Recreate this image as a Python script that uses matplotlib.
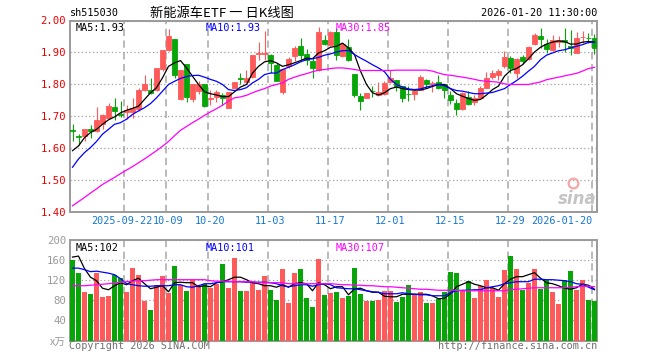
import numpy as np
import matplotlib
matplotlib.use('Agg')
import matplotlib.pyplot as plt
from matplotlib.transforms import ScaledTranslation

# --- data (sh515030, 2025-09-09 .. 2026-01-20) ---
opens = [1.655, 1.637, 1.636, 1.660, 1.652, 1.676, 1.695, 1.729, 1.705, 1.712,
         1.713, 1.721, 1.782, 1.782, 1.783, 1.849, 1.908, 1.942, 1.752, 1.864,
         1.752, 1.778, 1.801, 1.754, 1.760, 1.767, 1.726, 1.787, 1.818, 1.807,
         1.822, 1.894, 1.894, 1.892, 1.861, 1.776, 1.856, 1.888, 1.920, 1.895,
         1.872, 1.846, 1.939, 1.924, 1.964, 1.888, 1.916, 1.832, 1.764, 1.758,
         1.779, 1.765, 1.768, 1.808, 1.814, 1.794, 1.770, 1.768, 1.783, 1.814,
         1.801, 1.807, 1.799, 1.765, 1.742, 1.721, 1.760, 1.745, 1.757, 1.789,
         1.823, 1.830, 1.856, 1.882, 1.835, 1.884, 1.878, 1.926, 1.951, 1.926,
         1.908, 1.933, 1.939, 1.920, 1.898, 1.947, 1.946, 1.944]
highs = [1.674, 1.643, 1.660, 1.672, 1.729, 1.705, 1.742, 1.757, 1.748, 1.736,
         1.757, 1.788, 1.830, 1.818, 1.851, 1.906, 1.973, 1.942, 1.846, 1.864,
         1.801, 1.811, 1.801, 1.783, 1.783, 1.773, 1.776, 1.807, 1.834, 1.843,
         1.893, 1.931, 1.966, 1.895, 1.867, 1.849, 1.884, 1.920, 1.945, 1.911,
         1.882, 1.979, 1.953, 1.966, 1.976, 1.929, 1.943, 1.832, 1.773, 1.773,
         1.794, 1.807, 1.811, 1.843, 1.814, 1.794, 1.794, 1.778, 1.829, 1.816,
         1.810, 1.830, 1.799, 1.779, 1.752, 1.776, 1.779, 1.765, 1.794, 1.839,
         1.843, 1.848, 1.903, 1.890, 1.882, 1.891, 1.919, 1.960, 1.976, 1.943,
         1.953, 1.950, 1.976, 1.971, 1.964, 1.966, 1.961, 1.958]
lows = [1.622, 1.609, 1.620, 1.632, 1.651, 1.658, 1.690, 1.686, 1.697, 1.692,
        1.693, 1.715, 1.780, 1.770, 1.780, 1.841, 1.905, 1.818, 1.750, 1.745,
        1.745, 1.768, 1.728, 1.736, 1.745, 1.734, 1.724, 1.787, 1.801, 1.807,
        1.820, 1.877, 1.877, 1.835, 1.809, 1.768, 1.851, 1.872, 1.877, 1.861,
        1.820, 1.841, 1.924, 1.919, 1.877, 1.885, 1.874, 1.760, 1.720, 1.758,
        1.760, 1.763, 1.766, 1.804, 1.778, 1.745, 1.747, 1.749, 1.781, 1.787,
        1.775, 1.786, 1.757, 1.739, 1.702, 1.719, 1.736, 1.736, 1.755, 1.787,
        1.816, 1.813, 1.851, 1.835, 1.818, 1.864, 1.877, 1.924, 1.914, 1.898,
        1.905, 1.918, 1.901, 1.891, 1.898, 1.930, 1.930, 1.895]
closes = [1.652, 1.635, 1.660, 1.653, 1.689, 1.702, 1.732, 1.715, 1.703, 1.720,
          1.725, 1.781, 1.801, 1.771, 1.851, 1.906, 1.950, 1.830, 1.844, 1.760,
          1.801, 1.801, 1.731, 1.756, 1.775, 1.757, 1.776, 1.807, 1.816, 1.820,
          1.893, 1.898, 1.898, 1.868, 1.811, 1.849, 1.879, 1.914, 1.893, 1.877,
          1.851, 1.964, 1.926, 1.964, 1.893, 1.926, 1.877, 1.766, 1.747, 1.773,
          1.777, 1.775, 1.803, 1.820, 1.791, 1.755, 1.768, 1.778, 1.822, 1.799,
          1.803, 1.788, 1.783, 1.750, 1.721, 1.773, 1.738, 1.757, 1.789, 1.820,
          1.836, 1.841, 1.884, 1.851, 1.880, 1.874, 1.917, 1.953, 1.943, 1.911,
          1.939, 1.939, 1.933, 1.914, 1.945, 1.949, 1.944, 1.913]

ma5 = [1.591, 1.606, 1.632, 1.648, 1.658, 1.674, 1.688, 1.697, 1.710, 1.718,
       1.724, 1.731, 1.752, 1.773, 1.789, 1.820, 1.856, 1.867, 1.874, 1.851,
       1.825, 1.799, 1.776, 1.770, 1.766, 1.761, 1.761, 1.776, 1.791, 1.799,
       1.835, 1.856, 1.870, 1.874, 1.867, 1.856, 1.861, 1.867, 1.874, 1.882,
       1.880, 1.898, 1.905, 1.916, 1.919, 1.929, 1.914, 1.893, 1.841, 1.799,
       1.773, 1.766, 1.773, 1.786, 1.791, 1.786, 1.783, 1.781, 1.782, 1.786,
       1.793, 1.799, 1.799, 1.786, 1.770, 1.762, 1.755, 1.749, 1.752, 1.766,
       1.783, 1.794, 1.825, 1.843, 1.849, 1.861, 1.880, 1.901, 1.916, 1.926,
       1.932, 1.936, 1.934, 1.926, 1.926, 1.932, 1.934, 1.932]
ma10 = [1.539, 1.565, 1.585, 1.601, 1.620, 1.643, 1.658, 1.674, 1.679, 1.690,
        1.705, 1.716, 1.726, 1.739, 1.757, 1.778, 1.799, 1.809, 1.818, 1.824,
        1.827, 1.828, 1.822, 1.815, 1.809, 1.799, 1.783, 1.780, 1.783, 1.789,
        1.804, 1.815, 1.830, 1.835, 1.835, 1.846, 1.853, 1.861, 1.870, 1.877,
        1.880, 1.884, 1.891, 1.895, 1.901, 1.905, 1.906, 1.893, 1.882, 1.872,
        1.861, 1.851, 1.839, 1.815, 1.799, 1.791, 1.785, 1.783, 1.785, 1.791,
        1.795, 1.799, 1.795, 1.786, 1.780, 1.778, 1.774, 1.770, 1.770, 1.772,
        1.774, 1.780, 1.786, 1.799, 1.811, 1.825, 1.841, 1.856, 1.877, 1.891,
        1.898, 1.905, 1.908, 1.914, 1.919, 1.924, 1.931, 1.932]
ma30 = [1.418, 1.431, 1.444, 1.458, 1.471, 1.485, 1.496, 1.507, 1.519, 1.530,
        1.541, 1.553, 1.565, 1.578, 1.591, 1.605, 1.620, 1.638, 1.655, 1.667,
        1.679, 1.690, 1.702, 1.713, 1.723, 1.734, 1.747, 1.757, 1.760, 1.765,
        1.773, 1.780, 1.786, 1.794, 1.799, 1.804, 1.815, 1.822, 1.828, 1.833,
        1.839, 1.844, 1.846, 1.849, 1.851, 1.851, 1.849, 1.846, 1.843, 1.843,
        1.843, 1.843, 1.843, 1.843, 1.844, 1.844, 1.844, 1.844, 1.844, 1.844,
        1.841, 1.835, 1.830, 1.828, 1.825, 1.822, 1.819, 1.815, 1.811, 1.809,
        1.808, 1.806, 1.801, 1.799, 1.799, 1.799, 1.799, 1.803, 1.807, 1.814,
        1.818, 1.822, 1.826, 1.830, 1.834, 1.841, 1.849, 1.853]

# volume in 万
volume = [160, 134, 97, 93, 134, 86, 89, 131, 124, 96,
          144, 130, 79, 61, 111, 128, 94, 148, 111, 99,
          121, 109, 113, 104, 112, 153, 104, 165, 99, 99,
          116, 101, 129, 101, 81, 143, 74, 135, 143, 84,
          66, 163, 91, 95, 97, 84, 89, 145, 93, 79,
          79, 81, 99, 99, 77, 87, 111, 93, 97, 75,
          75, 82, 97, 136, 134, 99, 118, 85, 109, 121,
          105, 87, 141, 169, 143, 100, 115, 143, 102, 121,
          97, 73, 121, 139, 101, 120, 80, 78]
vma5 = [166, 168, 143, 126, 119, 104, 101, 109, 115, 111,
        119, 124, 113, 103, 106, 109, 97, 115, 116, 115,
        115, 107, 109, 107, 115, 117, 121, 126, 126, 121,
        115, 113, 109, 109, 106, 111, 106, 113, 115, 113,
        99, 115, 111, 103, 107, 107, 91, 103, 104, 99,
        96, 96, 88, 87, 87, 92, 92, 92, 92, 92,
        89, 83, 84, 93, 107, 112, 117, 112, 109, 105,
        105, 100, 113, 122, 127, 127, 131, 135, 124, 115,
        113, 109, 104, 102, 105, 112, 110, 102]
vma10 = [144, 144, 141, 137, 138, 136, 134, 131, 123, 113,
         111, 109, 108, 108, 109, 109, 109, 111, 111, 107,
         106, 109, 113, 113, 115, 117, 117, 117, 117, 116,
         116, 116, 116, 115, 113, 109, 107, 109, 111, 111,
         108, 111, 113, 111, 105, 104, 103, 103, 101, 99,
         97, 96, 93, 93, 93, 95, 93, 92, 91, 91,
         89, 89, 89, 95, 99, 100, 100, 101, 101, 105,
         107, 109, 113, 115, 117, 117, 117, 122, 122, 121,
         121, 120, 119, 117, 113, 112, 106, 101]
vma30 = [109, 109, 109, 110, 111, 112, 113, 115, 116, 117,
         118, 119, 119, 120, 121, 121, 121, 121, 121, 121,
         121, 121, 121, 119, 118, 118, 118, 117, 117, 117,
         117, 115, 115, 115, 115, 115, 113, 113, 113, 113,
         113, 113, 113, 113, 112, 111, 111, 110, 110, 109,
         109, 108, 107, 107, 106, 105, 104, 103, 102, 102,
         101, 100, 100, 100, 100, 99, 99, 99, 99, 99,
         99, 99, 99, 101, 102, 103, 104, 105, 105, 105,
         105, 105, 105, 106, 107, 108, 108, 107]

date_idx = [9, 16, 23, 33, 43, 53, 63, 73, 87]
date_labels = ['2025-09-22', '10-09', '10-20', '11-03', '11-17',
               '12-01', '12-15', '12-29', '2026-01-20']
price_ticks = [1.40, 1.50, 1.60, 1.70, 1.80, 1.90, 2.00]
vol_ticks = [0, 40, 80, 120, 160, 200]

# --- styling ---
RED = '#ff5a5a'
GREEN = '#07a507'
FRAME = '#9a9a9a'
MONO = 'DejaVu Sans Mono'
CJK = ['Noto Sans CJK SC', 'DejaVu Sans']
FS = 7.3

x = np.arange(len(closes))
o = np.array(opens)
c = np.array(closes)
up = c >= o
colors = np.where(up, RED, GREEN)
W = 5 / 6
half = 2.5 / 6
xlim = (-half, len(closes) - 1 + half)

fig = plt.figure(figsize=(6.6, 3.6), dpi=100)
ax = fig.add_axes([70 / 660, 1 - 211.5 / 360, 527 / 660, 191 / 360])
axv = fig.add_axes([70 / 660, 1 - 340.5 / 360, 527 / 660, 100.5 / 360])

for a in (ax, axv):
    a.set_xlim(*xlim)
    for s in a.spines.values():
        s.set_color(FRAME)
        s.set_linewidth(1.4)
    a.yaxis.grid(True, linestyle=(0, (1, 2)), color='#a0a0a0', linewidth=0.9)
    a.set_axisbelow(True)
    for i in date_idx:
        a.axvline(i - half, color='#b4b4b4', linewidth=1.3,
                  linestyle=(0, (4, 2.5)), zorder=0.5)
    a.tick_params(length=0)

# --- candles ---
ax.vlines(x, lows, highs, colors=colors, linewidth=0.8, zorder=2)
ax.bar(x, c - o, bottom=o, width=W, color=colors, edgecolor=colors,
       linewidth=0.6, zorder=3)
ax.plot(x, ma5, color='black', linewidth=0.9, zorder=4)
ax.plot(x, ma10, color='#0000ff', linewidth=0.9, zorder=4)
ax.plot(x, ma30, color='#ff00ff', linewidth=0.9, zorder=4)
ax.set_ylim(1.40, 2.00)
ax.set_yticks(price_ticks)
ax.set_yticklabels(['%.2f' % v for v in price_ticks], color='#ee0000',
                   fontsize=FS + 0.4, family=MONO)
ax.tick_params(axis='y', pad=3)
ax.set_xticks([])

# date labels under the price panel (first one nudged left, last right-aligned)
for k, (i, lab) in enumerate(zip(date_idx, date_labels)):
    ha = 'center'
    shift = 0
    if k == 0:
        shift = -5
    if k == len(date_idx) - 1:
        ha = 'right'
        shift = -2
    tr = ax.get_xaxis_transform() + ScaledTranslation(shift / 100, -4.5 / 100,
                                                      fig.dpi_scale_trans)
    ax.text(i, 0, lab, transform=tr, ha=ha, va='top', fontsize=FS,
            family=MONO, color='#1478d2')

ax.text(0.01, 0.985, 'MA5:1.93', transform=ax.transAxes, va='top',
        fontsize=FS, family=MONO, color='black')
ax.text(0.257, 0.985, 'MA10:1.93', transform=ax.transAxes, va='top',
        fontsize=FS, family=MONO, color='#0000ff')
ax.text(0.504, 0.985, 'MA30:1.85', transform=ax.transAxes, va='top',
        fontsize=FS, family=MONO, color='#ff00ff')

# sina watermark
ax.text(1.0, 0.02, 'sina', transform=ax.transAxes, ha='right', va='bottom',
        fontsize=12, style='italic', fontweight='bold', color='#c4c4c4')
ax.plot([0.955], [0.15], transform=ax.transAxes, marker='o', markersize=7,
        markerfacecolor='none', markeredgecolor='#f2a8a8', markeredgewidth=1.6)

# --- volume ---
axv.bar(x, volume, width=W, color=colors, linewidth=0, zorder=3)
axv.plot(x, vma5, color='black', linewidth=0.9, zorder=4)
axv.plot(x, vma10, color='#0000ff', linewidth=0.9, zorder=4)
axv.plot(x, vma30, color='#ff00ff', linewidth=0.9, zorder=4)
axv.set_ylim(0, 200)
axv.set_yticks(vol_ticks)
axv.set_yticklabels(['x万'] + [str(v) for v in vol_ticks[1:]], color='#9a9a9a',
                    fontsize=FS + 0.4, family=MONO)
axv.get_yticklabels()[0].set_family(CJK)
axv.tick_params(axis='y', pad=3)
axv.set_xticks([])

axv.text(0.01, 0.97, 'MA5:102', transform=axv.transAxes, va='top',
         fontsize=FS, family=MONO, color='black')
axv.text(0.257, 0.97, 'MA10:101', transform=axv.transAxes, va='top',
         fontsize=FS, family=MONO, color='#0000ff')
axv.text(0.504, 0.97, 'MA30:107', transform=axv.transAxes, va='top',
         fontsize=FS, family=MONO, color='#ff00ff')

# --- header / footer texts ---
fig.text(70 / 660, 1 - 13 / 360, 'sh515030', ha='left', va='center',
         fontsize=FS, family=MONO, color='black')
fig.text(222 / 660, 1 - 13 / 360, '新能源车ETF 一 日K线图', ha='center',
         va='center', fontsize=9.5, family=CJK, color='black')
fig.text(597 / 660, 1 - 13 / 360, '2026-01-20 11:30:00', ha='right',
         va='center', fontsize=FS, family=MONO, color='black')
fig.text(69 / 660, 1 - 346 / 360, 'Copyright 2026 SINA.COM', ha='left',
         va='center', fontsize=FS, family=MONO, color='#707070')
fig.text(597 / 660, 1 - 346 / 360, 'http://finance.sina.com.cn', ha='right',
         va='center', fontsize=FS, family=MONO, color='#707070')

fig.savefig('out.png', dpi=100, facecolor='white')
